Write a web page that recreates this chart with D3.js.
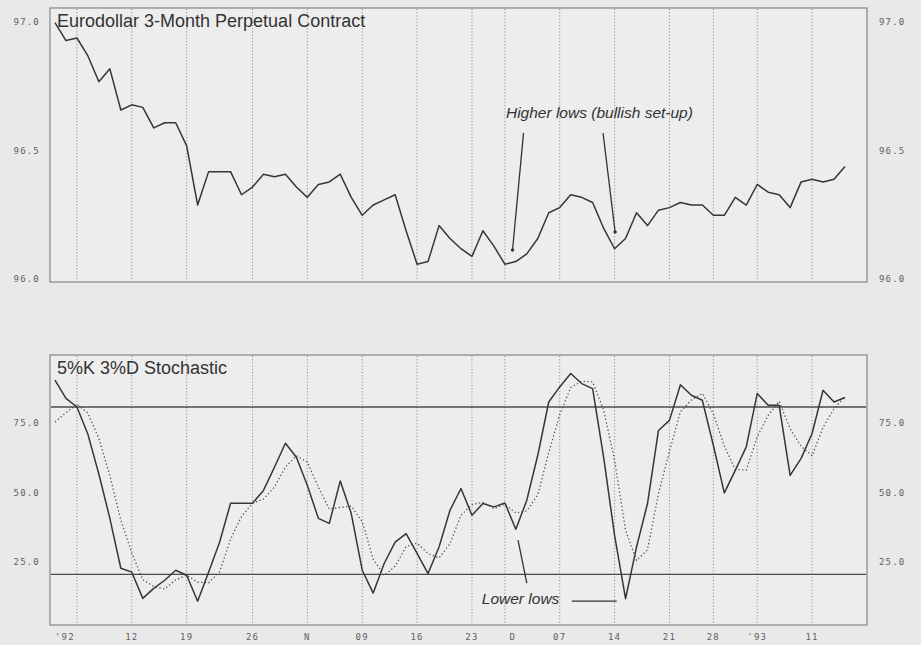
<!DOCTYPE html>
<html><head><meta charset="utf-8">
<script src="https://cdn.jsdelivr.net/npm/d3@7"></script>
<style>html,body{margin:0;padding:0;background:#e9e9e9;} svg{display:block;}</style>
</head><body>
<svg id="c" width="921" height="645"></svg>
<script>
// ---- data ----
const price = [96.99,96.92,96.93,96.86,96.76,96.81,96.65,96.67,96.66,96.58,
  96.60,96.60,96.51,96.28,96.41,96.41,96.41,96.32,96.35,96.40,
  96.39,96.40,96.35,96.31,96.36,96.37,96.40,96.31,96.24,96.28,
  96.30,96.32,96.18,96.05,96.06,96.20,96.15,96.11,96.08,96.18,
  96.12,96.05,96.06,96.09,96.15,96.25,96.27,96.32,96.31,96.29,
  96.19,96.11,96.15,96.25,96.20,96.26,96.27,96.29,96.28,96.28,
  96.24,96.24,96.31,96.28,96.36,96.33,96.32,96.27,96.37,96.38,
  96.37,96.38,96.43];
const stochK = [89.6,83.1,80.0,70.2,55.9,40.1,22.2,20.8,11.4,15.0,
  17.9,21.5,19.7,10.4,20.8,31.5,45.5,45.5,45.5,50.1,
  58.4,67.0,62.0,51.9,40.1,38.3,53.5,41.8,21.5,13.3,
  23.9,31.6,34.6,27.5,20.3,29.8,43.0,50.8,41.2,45.4,
  44.2,45.6,36.2,46.6,62.7,81.8,87.2,92.0,88.4,86.6,
  62.0,34.0,11.3,29.8,45.4,71.6,75.2,88.0,84.2,82.4,
  66.3,49.2,57.3,65.7,84.8,80.6,80.6,55.5,61.6,70.5,
  86.0,81.8,83.4];
const stochD = [74.6,78.0,81.0,77.8,68.7,55.4,39.4,27.7,18.1,15.7,
  14.8,18.1,19.7,17.2,17.0,20.9,32.6,40.8,45.5,47.0,
  51.3,58.5,62.5,60.3,51.3,43.4,44.0,44.5,38.9,25.5,
  19.6,22.9,30.0,31.2,27.5,25.9,31.0,41.2,45.0,45.8,
  43.6,45.1,42.0,42.8,48.5,63.7,77.2,87.0,89.2,89.0,
  79.0,60.9,35.8,25.0,28.8,48.9,64.1,78.3,82.5,84.9,
  77.6,66.0,57.6,57.4,69.3,77.0,82.0,72.2,65.9,62.5,
  72.7,79.4,83.7];
const gridDays   = [2,7,12,18,23,28,33,38,41,46,51,56,60,64,69];
const dateLabels = ["'92","12","19","26","N","09","16","23","D","07","14","21","28","'93","11"];
const priceTicks = [96.0, 96.5, 97.0];
const stochTicks = [25, 50, 75];
const stochBands = [20, 80];
const priceTitle = "Eurodollar 3-Month Perpetual Contract";
const stochTitle = "5%K 3%D Stochastic";
const upNote = "Higher lows (bullish set-up)";
const downNote = "Lower lows";

// ---- layout ----
const svg = d3.select("#c");
const L = 50, R = 867;
const top1 = 8, bot1 = 282, top2 = 355, bot2 = 625;
const x = d3.scaleLinear().domain([0, price.length - 1]).range([55, 845]);
const yP = d3.scaleLinear().domain([96, 97]).range([277, 20]);
const yS = d3.scaleLinear().domain([0, 100]).range([630.2, 351.2]);

const lineCol = "#363636", frameCol = "#8c8c8c", gridCol = "#808080", txtCol = "#5e5e5e";
const tickFont = "'DejaVu Sans Mono', monospace";
const titleFont = "'Liberation Sans', Arial, sans-serif";

function panel(t, b) {
  const g = svg.append("g");
  g.append("rect").attr("x", L).attr("y", t).attr("width", R - L).attr("height", b - t)
    .attr("fill", "#ededed").attr("stroke", frameCol).attr("stroke-width", 1.3);
  g.selectAll("line.grid").data(gridDays).join("line").attr("class", "grid")
    .attr("x1", d => x(d)).attr("x2", d => x(d)).attr("y1", t + 1).attr("y2", b - 1)
    .attr("stroke", gridCol).attr("stroke-width", 1).attr("stroke-dasharray", "1,2.2");
  return g;
}
function sideAxes(scale, ticks, fmt) {
  const left = svg.append("g").attr("transform", `translate(${L - 8},0)`)
    .call(d3.axisLeft(scale).tickValues(ticks).tickSize(0).tickPadding(2).tickFormat(fmt));
  const right = svg.append("g").attr("transform", `translate(${R + 10},0)`)
    .call(d3.axisRight(scale).tickValues(ticks).tickSize(0).tickPadding(2).tickFormat(fmt));
  [left, right].forEach(a => {
    a.select(".domain").remove();
    a.selectAll("text").attr("fill", txtCol).attr("font-family", tickFont)
      .attr("font-size", 9).attr("letter-spacing", 1.2).attr("dy", "0.5em");
  });
}

// top panel
panel(top1, bot1);
sideAxes(yP, priceTicks, d3.format(".1f"));
svg.append("text").attr("x", 57).attr("y", 27).text(priceTitle)
  .attr("font-family", titleFont).attr("font-size", 18).attr("fill", "#333");
svg.append("path").datum(price)
  .attr("d", d3.line().x((d, i) => x(i)).y(d => yP(d)))
  .attr("fill", "none").attr("stroke", lineCol).attr("stroke-width", 1.5).attr("stroke-linejoin", "round");

// bottom panel
panel(top2, bot2);
sideAxes(yS, stochTicks, d3.format(".1f"));
svg.selectAll("line.band").data(stochBands).join("line").attr("class", "band")
  .attr("x1", L + 1).attr("x2", R - 1).attr("y1", d => yS(d)).attr("y2", d => yS(d))
  .attr("stroke", "#4a4a4a").attr("stroke-width", 1.4);
svg.append("text").attr("x", 57).attr("y", 374).text(stochTitle)
  .attr("font-family", titleFont).attr("font-size", 18).attr("fill", "#333");
svg.append("path").datum(stochD)
  .attr("d", d3.line().x((d, i) => x(i)).y(d => yS(d)))
  .attr("fill", "none").attr("stroke", "#505050").attr("stroke-width", 1.3).attr("stroke-dasharray", "1.3,2.4");
svg.append("path").datum(stochK)
  .attr("d", d3.line().x((d, i) => x(i)).y(d => yS(d)))
  .attr("fill", "none").attr("stroke", lineCol).attr("stroke-width", 1.5).attr("stroke-linejoin", "round");

// date labels
svg.selectAll("text.date").data(dateLabels).join("text").attr("class", "date")
  .attr("x", (d, i) => x(gridDays[i]) + (i === 0 ? -12 : (d === "D" ? 8 : 0)))
  .attr("y", 640).attr("text-anchor", "middle").text(d => d)
  .attr("fill", txtCol).attr("font-family", tickFont).attr("font-size", 9).attr("letter-spacing", 1.2);

// annotations (in data coordinates)
svg.append("text").attr("x", x(41.1)).attr("y", yP(96.64) + 5).text(upNote)
  .attr("font-family", titleFont).attr("font-style", "italic").attr("font-size", 15.5).attr("fill", "#333");
const upArrows = [[42.7, 96.56, 41.7, 96.105], [49.95, 96.56, 51.05, 96.175]];
upArrows.forEach(a => {
  svg.append("line").attr("x1", x(a[0])).attr("y1", yP(a[1])).attr("x2", x(a[2])).attr("y2", yP(a[3]))
    .attr("stroke", "#333").attr("stroke-width", 1.3);
  svg.append("circle").attr("cx", x(a[2])).attr("cy", yP(a[3])).attr("r", 1.7).attr("fill", "#333");
});
svg.append("text").attr("x", x(38.9)).attr("y", yS(11.1) + 5).text(downNote)
  .attr("font-family", titleFont).attr("font-style", "italic").attr("font-size", 15.5).attr("fill", "#333");
svg.append("line").attr("x1", x(47.1)).attr("y1", yS(10.4)).attr("x2", x(51.2)).attr("y2", yS(10.4))
  .attr("stroke", "#333").attr("stroke-width", 1.3);
svg.append("line").attr("x1", x(42.2)).attr("y1", yS(32.3)).attr("x2", x(43.0)).attr("y2", yS(16.9))
  .attr("stroke", "#333").attr("stroke-width", 1.3);
</script>
</body></html>
